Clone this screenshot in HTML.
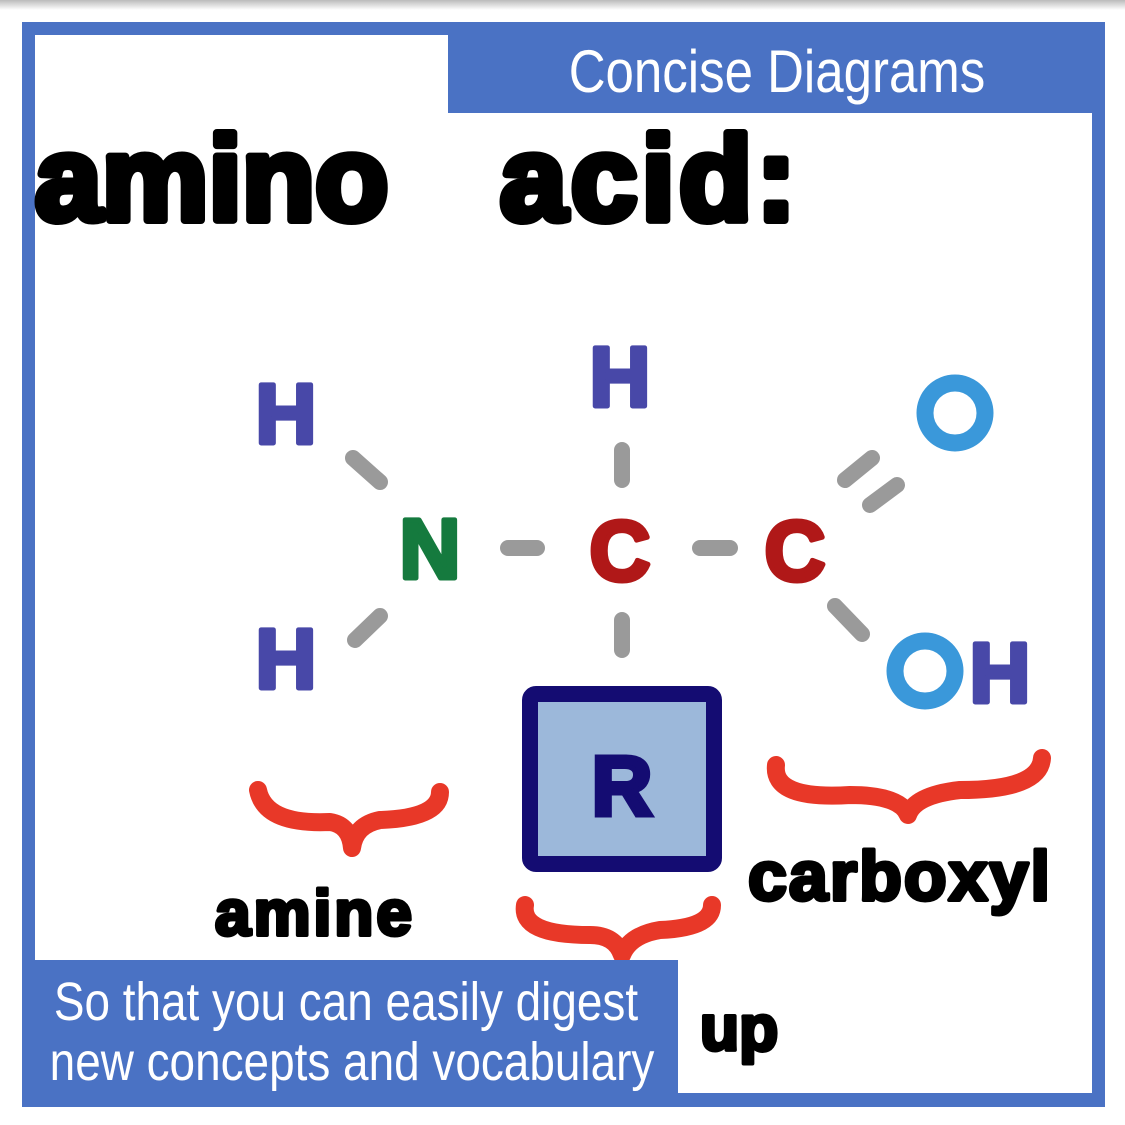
<!DOCTYPE html>
<html><head><meta charset="utf-8"><style>
html,body{margin:0;padding:0;background:#fff;}
svg{display:block;}
.hand{font-family:"Liberation Sans",sans-serif;font-weight:bold;}
.cond{font-family:"Liberation Sans Narrow","Liberation Sans",sans-serif;}
</style></head><body>
<svg width="1125" height="1125" viewBox="0 0 1125 1125" xmlns="http://www.w3.org/2000/svg">
<defs><linearGradient id="tg" x1="0" y1="0" x2="0" y2="1"><stop offset="0" stop-color="#bbb"/><stop offset="1" stop-color="#fff"/></linearGradient></defs>
<rect x="0" y="0" width="1125" height="10" fill="url(#tg)"/>
<rect x="22" y="22" width="1083" height="1085" fill="#4a72c4"/>
<rect x="35" y="35" width="1057" height="1058" fill="#fff"/>
<rect x="448" y="35" width="644" height="78" fill="#4a72c4"/>
<text x="777" y="92" text-anchor="middle" fill="#fff" font-size="60" class="cond" transform="translate(777 0) scale(0.85 1) translate(-777 0)">Concise Diagrams</text>

<g class="hand" fill="#000" stroke="#000" stroke-width="8" stroke-linejoin="round">
<text x="35" y="220" font-size="120" letter-spacing="0">amino</text>
<text x="500" y="220" font-size="120" letter-spacing="4">acid:</text>
</g>

<g stroke="#9a9a9a" stroke-width="16" stroke-linecap="round" fill="none">
<line x1="353" y1="458" x2="380" y2="482"/>
<line x1="380" y1="616" x2="355" y2="640"/>
<line x1="508" y1="548" x2="537" y2="548"/>
<line x1="622" y1="450" x2="622" y2="480"/>
<line x1="622" y1="620" x2="622" y2="650"/>
<line x1="700" y1="548" x2="730" y2="548"/>
<line x1="845" y1="480" x2="872" y2="458"/>
<line x1="870" y1="505" x2="897" y2="485"/>
<line x1="835" y1="606" x2="862" y2="634"/>
</g>

<g class="hand" font-size="84" text-anchor="middle" stroke-width="5" stroke-linejoin="round">
<text x="286" y="443" fill="#4848a8" stroke="#4848a8">H</text>
<text x="286" y="688" fill="#4848a8" stroke="#4848a8">H</text>
<text x="620" y="406" fill="#4848a8" stroke="#4848a8">H</text>
<text x="430" y="578" fill="#157a3e" stroke="#157a3e">N</text>
<text x="620" y="580" fill="#b01818" stroke="#b01818">C</text>
<text x="795" y="580" fill="#b01818" stroke="#b01818">C</text>
<text x="1000" y="702" fill="#4848a8" stroke="#4848a8">H</text>
</g>
<circle cx="955" cy="413" r="30" fill="none" stroke="#3a98da" stroke-width="17"/>
<circle cx="925" cy="671" r="30" fill="none" stroke="#3a98da" stroke-width="17"/>

<rect x="530" y="694" width="184" height="170" fill="#9cb8da" stroke="#140c72" stroke-width="16" rx="6"/>
<text x="622" y="815" text-anchor="middle" font-size="84" class="hand" fill="#140c72" stroke="#140c72" stroke-width="5">R</text>

<g fill="none" stroke="#e83828" stroke-width="18" stroke-linecap="round" stroke-linejoin="round">
<path d="M258 790 Q265 825 330 822 Q350 825 352 848 Q355 825 380 820 Q440 818 440 792"/>
<path d="M776 765 Q772 800 850 795 Q900 795 908 815 Q915 795 960 790 Q1040 790 1042 758"/>
<path d="M525 905 Q520 935 590 935 Q615 935 622 955 Q630 935 660 930 Q712 928 712 905"/>
</g>

<g class="hand" fill="#000" stroke="#000" stroke-width="4" stroke-linejoin="round">
<text x="215" y="935" font-size="64" letter-spacing="3">amine</text>
<text x="748" y="900" font-size="70" letter-spacing="2">carboxyl</text>
<text x="700" y="1050" font-size="64">up</text>
</g>

<rect x="35" y="960" width="643" height="133" fill="#4a72c4"/>
<g class="cond" fill="#fff" font-size="54" text-anchor="middle">
<text x="346" y="1020" transform="translate(346 0) scale(0.85 1) translate(-346 0)">So that you can easily digest</text>
<text x="352" y="1080" transform="translate(352 0) scale(0.85 1) translate(-352 0)">new concepts and vocabulary</text>
</g>
</svg>
</body></html>
